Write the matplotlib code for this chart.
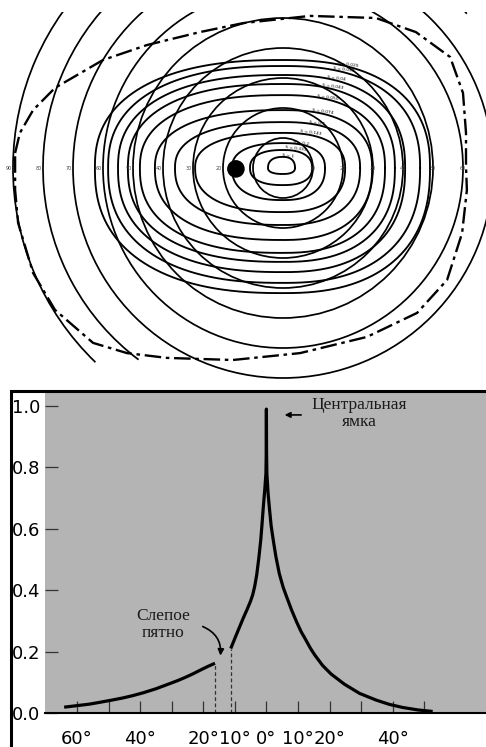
import numpy as np
import matplotlib.pyplot as plt
from matplotlib.patches import Circle, Arc, Rectangle

# ---- top: visual field map, degrees from fixation ----
ring_radii = [10, 20, 30, 40, 50, 60, 70]
arc_radii = [80, 90]
arc_ends = [233, 226]

iso_labels = ["S = 1", "S = 0.333", "S = 0.2", "S = 0.143", "S = 0.1", "S = 0.074",
              "S = 0.050", "S = 0.043", "S = 0.04", "S = 0.033", "S = 0.025"]
iso_left = [-5, -11, -17, -29.3, -36, -42.7, -47.7, -51.7, -55, -58.3, -62.7]
iso_right = [4, 9.7, 14, 20.7, 25.7, 29.7, 34, 37.3, 40.7, 45.7, 49]
iso_top = [3.7, 6, 8.3, 11.7, 15.3, 19.3, 24.3, 28, 31, 34, 36]
iso_bottom = [-2, -5.7, -10.7, -14.7, -19, -24, -28.3, -31.3, -34.7, -38.3, -41.7]

field_x = [-89.3, -87.7, -83.3, -76, -60, -45.3, -27.7, -13.3, 9, 31, 44.3, 55.7, 60,
           61, 61, 61.3, 59.7, 54.7, 44.7, 28, 5.7, -16.7, -38.7, -52, -63.3, -76,
           -83.3, -88.3, -89.3]
field_y = [5, 11.7, 19.3, 26.7, 36, 41, 45.3, 48.3, 50.7, 50, 45.3, 37, 25, 11.7,
           0.3, -7.3, -21.7, -37.3, -48.3, -56.3, -61.7, -64, -63.3, -61.7, -58.3,
           -47.3, -35, -18.3, -7.3]

blind_x, blind_y, blind_r = -15.7, -0.3, 2.7

left_marks = [90, 80, 70, 60, 50, 40, 30, 20]
right_marks = [10, 20, 30, 40, 50, 60]

# ---- bottom: acuity vs eccentricity ----
periph_x = [-64.1, -60, -56, -52.7, -49, -45.5, -42.2, -39, -35, -31.6, -28, -25.5,
            -23.2, -20.5, -18.5, -16.3]
periph_y = [0.019, 0.024, 0.029, 0.035, 0.042, 0.049, 0.057, 0.066, 0.079, 0.092, 0.106,
            0.117, 0.128, 0.142, 0.152, 0.162]
central_x = [-11.3, -10.2, -9.0, -7.3, -6.0, -5.0, -4.34, -3.7, -3.07, -2.4, -1.8, -1.35,
             -0.98, -0.5, -0.15, -0.05, 0,
             0.05, 0.15, 0.5, 0.92, 1.5, 2.19, 3.0, 4.09, 5.3, 6.43, 8.0, 9.6, 11.0,
             12.5, 14.0, 15.4, 17.8, 20.5, 24.7, 29.5, 34.8, 39, 43.2, 48, 52.7]
central_y = [0.21, 0.238, 0.268, 0.31, 0.34, 0.365, 0.385, 0.413, 0.45, 0.505, 0.562, 0.62,
             0.671, 0.73, 0.78, 0.85, 0.99,
             0.85, 0.78, 0.72, 0.671, 0.61, 0.562, 0.51, 0.454, 0.41, 0.378, 0.335, 0.296,
             0.265, 0.238, 0.21, 0.188, 0.155, 0.127, 0.094, 0.064, 0.042, 0.028, 0.018,
             0.01, 0.005]
xticks = list(range(-60, 51, 10))
xtick_labels = ["60°", "", "40°", "", "20°", "10°", "0°", "10°", "20°", "", "40°", ""]
yticks = [0.0, 0.2, 0.4, 0.6, 0.8, 1.0]


def iso_curve(l, r, t, b, n=2.4):
    th = np.linspace(0, 2 * np.pi, 300)
    c = np.cos(th)
    s = np.sin(th)
    cx = np.sign(c) * np.abs(c) ** (2 / n)
    sy = np.sign(s) * np.abs(s) ** (2 / n)
    x = np.where(cx >= 0, cx * r, cx * (-l))
    y = np.where(sy >= 0, sy * t, sy * (-b))
    return x, y


fig = plt.figure(figsize=(4.86, 7.47), dpi=100)

ax1 = fig.add_axes([0, 1 - 380 / 747, 1, 368 / 747])
ax1.set_xlim(-283 / 3, 203 / 3)
ax1.set_ylim(-212 / 3, 156 / 3)
ax1.axis("off")

for r in ring_radii:
    ax1.add_patch(Circle((0, 0), r, fill=False, ec="k", lw=1.25))
for r, end in zip(arc_radii, arc_ends):
    ax1.add_patch(Arc((0, 0), 2 * r, 2 * r, theta1=40, theta2=end, ec="k", lw=1.25))

for lab, l, r, t, b in zip(iso_labels, iso_left, iso_right, iso_top, iso_bottom):
    x, y = iso_curve(l, r, t, b)
    ax1.plot(x, y, color="k", lw=1.35)
    k = np.deg2rad(68)
    lx = r * np.cos(k) ** (2 / 2.4)
    ly = t * np.sin(k) ** (2 / 2.4)
    ax1.text(lx, ly - 0.4, lab, fontsize=3.2, rotation=-8, ha="center", va="bottom")

ax1.plot(field_x + field_x[:1], field_y + field_y[:1], color="k", lw=1.7,
         linestyle=(0, (7, 2, 1.5, 2)))
ax1.add_patch(Circle((blind_x, blind_y), blind_r, color="k", zorder=5))

for m in left_marks:
    ax1.text(-(m + 1.5), 0, str(m), fontsize=3.5, color="#444", ha="center", va="center")
for m in right_marks:
    ax1.text(m, 0, str(m), fontsize=3.5, color="#444", ha="center", va="center")

ax2 = fig.add_axes([45 / 486, 1 - 713 / 747, 441 / 486, 321 / 747])
ax2.set_facecolor("#b4b4b4")
ax2.set_xlim(-70.17, 69.6)
ax2.set_ylim(0, 1.0457)
for side in ["top", "left", "right"]:
    ax2.spines[side].set_visible(False)
ax2.spines["bottom"].set_linewidth(1.5)

ax2.set_xticks(xticks)
ax2.set_xticklabels(xtick_labels)
ax2.set_yticks(yticks)
ax2.set_yticklabels([f"{v:.1f}" for v in yticks])
ax2.tick_params(axis="x", direction="in", length=8.6, width=0.9, color="#333",
                pad=12, labelsize=13)
ax2.tick_params(axis="y", direction="in", length=9.4, width=0.9, color="#333",
                pad=3.6, labelsize=13)

ax2.plot(periph_x, periph_y, color="k", lw=2.3, solid_capstyle="butt")
ax2.plot(central_x, central_y, color="k", lw=2.3, solid_capstyle="butt")
ax2.vlines([periph_x[-1], central_x[0]], 0, [periph_y[-1], central_y[0]],
           colors="#333", linestyles=(0, (3, 2)), lw=0.9)

serif = ["Liberation Serif", "DejaVu Serif"]
ax2.text(29.35, 0.975, "Центральная\nямка", family=serif, fontsize=12.5,
         ha="center", va="center", linespacing=1.05, color="#1a1a1a")
ax2.annotate("", xy=(4.9, 0.971), xytext=(11.9, 0.971),
             arrowprops=dict(arrowstyle="-|>", color="k", lw=1.2,
                             mutation_scale=8))
ax2.text(-32.8, 0.289, "Слепое\nпятно", family=serif, fontsize=12.5,
         ha="center", va="center", linespacing=1.05, color="#1a1a1a")
ax2.annotate("", xy=(-14.65, 0.178), xytext=(-21.0, 0.285),
             arrowprops=dict(arrowstyle="-|>", color="k", lw=1.2, mutation_scale=9,
                             connectionstyle="arc3,rad=-0.4"))

fig.add_artist(Rectangle((11.3 / 486, -0.1), 1.2, 1 - 390.5 / 747 + 0.1,
                         transform=fig.transFigure, fill=False, ec="k", lw=2.2))

fig.savefig("out.png", dpi=100, facecolor="white")
